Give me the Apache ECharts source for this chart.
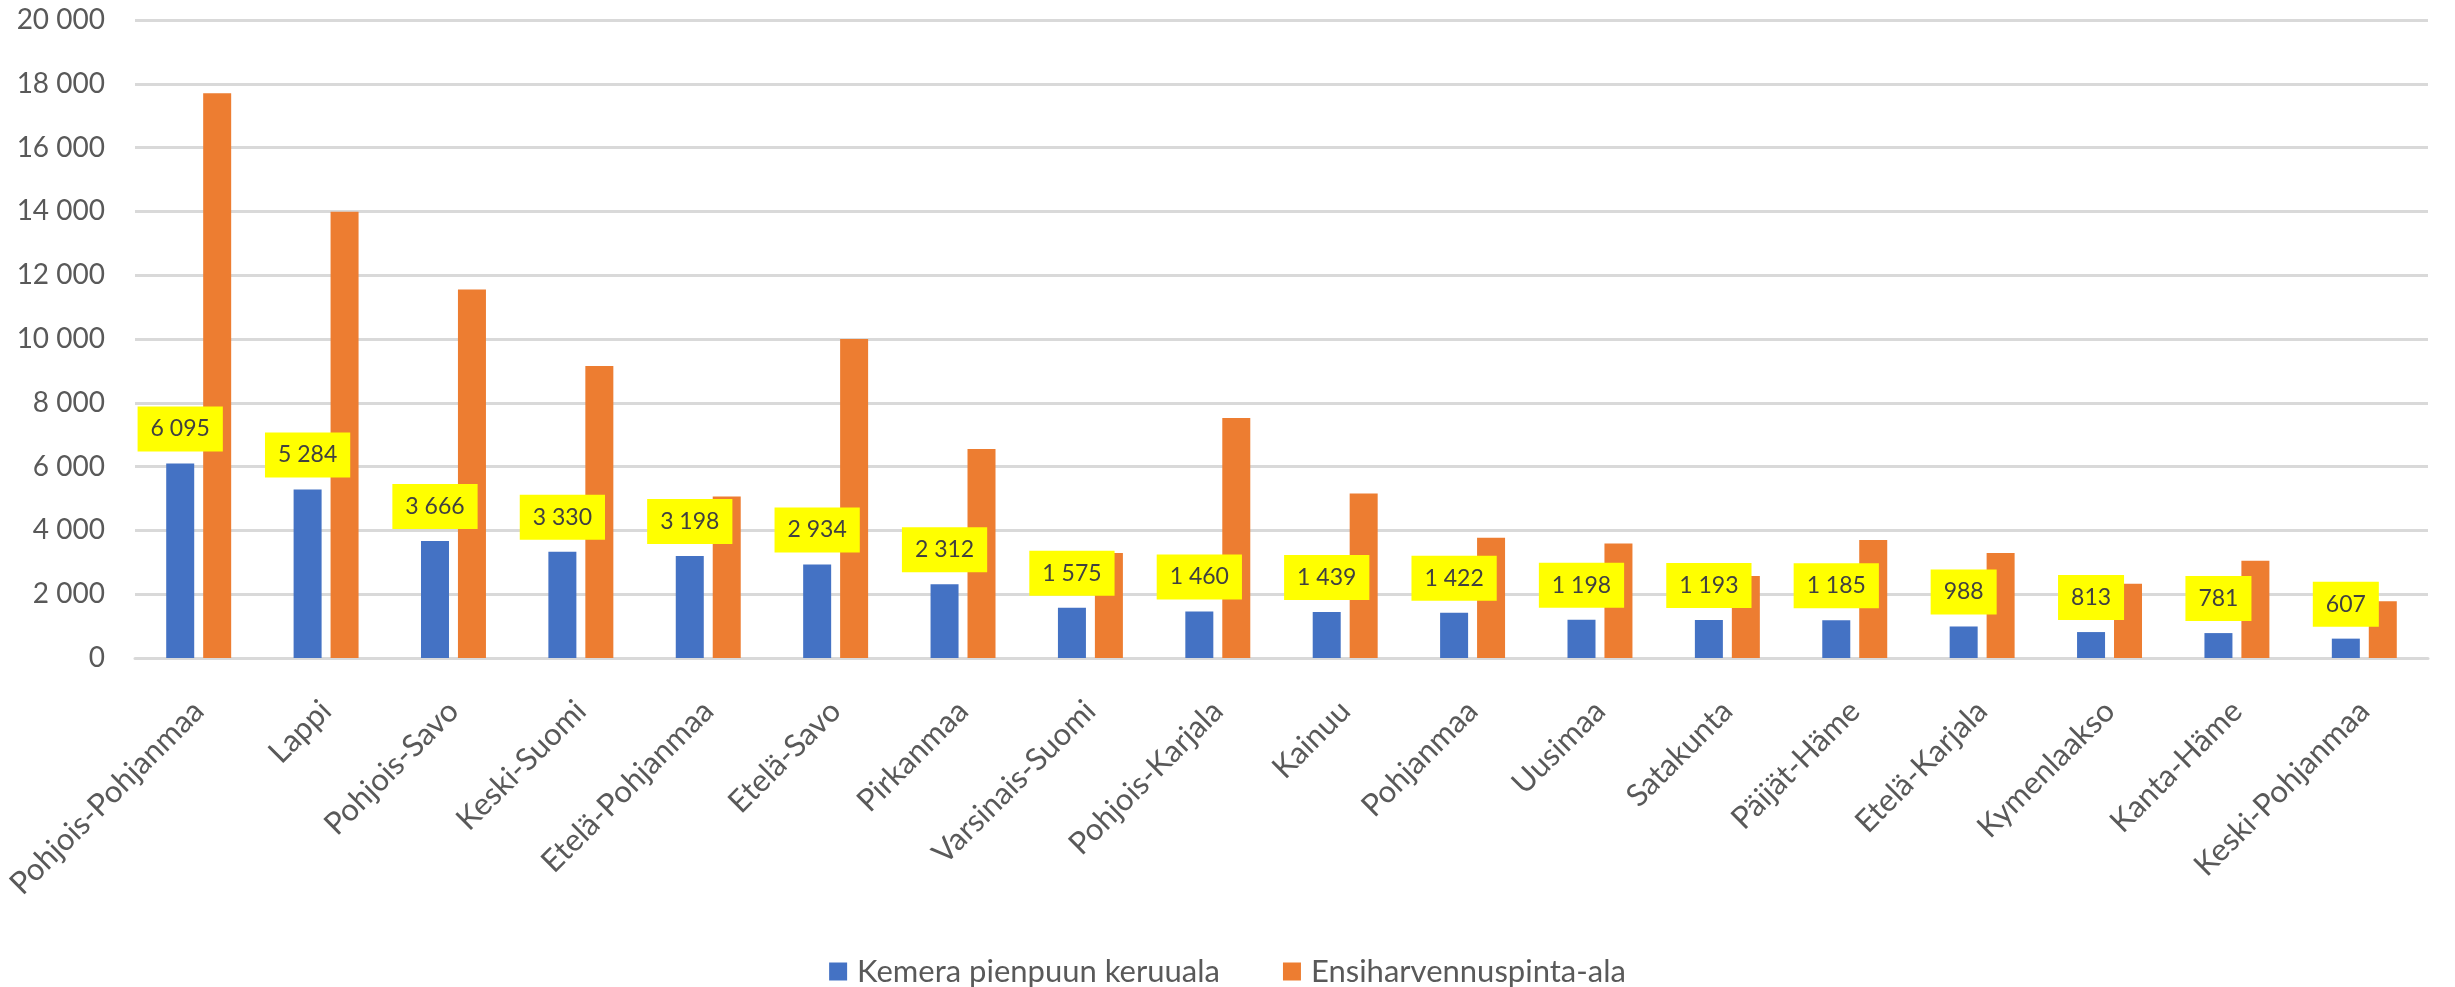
<!DOCTYPE html>
<html>
<head>
<meta charset="utf-8">
<script src="https://cdn.jsdelivr.net/npm/echarts@6/dist/echarts.min.js"></script>
<style>
html,body{margin:0;padding:0;background:#fff;}
#chart{width:2455px;height:987px;}
</style>
</head>
<body>
<div id="chart"></div>
<script>
const categories = ["Pohjois-Pohjanmaa","Lappi","Pohjois-Savo","Keski-Suomi","Etelä-Pohjanmaa","Etelä-Savo","Pirkanmaa","Varsinais-Suomi","Pohjois-Karjala","Kainuu","Pohjanmaa","Uusimaa","Satakunta","Päijät-Häme","Etelä-Karjala","Kymenlaakso","Kanta-Häme","Keski-Pohjanmaa"];
const kemera = [6095,5284,3666,3330,3198,2934,2312,1575,1460,1439,1422,1198,1193,1185,988,813,781,607];
const ensiharvennus = [17700,13990,11550,9150,5060,10000,6550,3290,7520,5160,3770,3590,2570,3700,3290,2330,3050,1780];
const seriesNames = ["Kemera pienpuun keruuala","Ensiharvennuspinta-ala"];
const yTicks = {min:0, max:20000, interval:2000};

function fmt(v){ return String(v).replace(/\B(?=(\d{3})+(?!\d))/g,' '); }

const chart = echarts.init(document.getElementById('chart'));
const FONT = 'Lato';
chart.setOption({
  animation:false,
  backgroundColor:'#ffffff',
  textStyle:{fontFamily:FONT},
  grid:{left:135,right:27,top:20,bottom:329,containLabel:false},
  legend:{
    data:seriesNames,
    top:951,
    left:'center',
    icon:'rect',
    itemWidth:18,
    itemHeight:18,
    itemGap:63,
    textStyle:{fontFamily:FONT,fontSize:31,color:'#595959',padding:[0,0,0,5]}
  },
  xAxis:{
    type:'category',
    data:categories,
    axisTick:{show:false},
    axisLine:{lineStyle:{color:'#d9d9d9',width:3}},
    axisLabel:{interval:0,rotate:45,margin:48,fontFamily:FONT,fontSize:31,color:'#595959'}
  },
  yAxis:{
    type:'value',
    min:yTicks.min,max:yTicks.max,interval:yTicks.interval,
    axisLine:{show:false},
    axisTick:{show:false},
    splitLine:{lineStyle:{color:'#d9d9d9',width:3}},
    axisLabel:{margin:30,fontFamily:FONT,fontSize:28,color:'#595959',formatter:fmt}
  },
  series:[
    {
      name:seriesNames[0],
      type:'bar',
      data:kemera,
      barWidth:28,
      barGap:'32%',
      itemStyle:{color:'#4472C4'},
      label:{
        show:true,
        position:'top',
        distance:12,
        formatter:p=>fmt(p.value),
        backgroundColor:'#FFFF00',
        padding:[8,13],
        lineHeight:29,
        fontFamily:FONT,
        fontSize:23,
        color:'#404040'
      },
      z:3
    },
    {
      name:seriesNames[1],
      type:'bar',
      data:ensiharvennus,
      barWidth:28,
      itemStyle:{color:'#ED7D31'},
      z:2
    }
  ]
});
</script>
</body>
</html>
